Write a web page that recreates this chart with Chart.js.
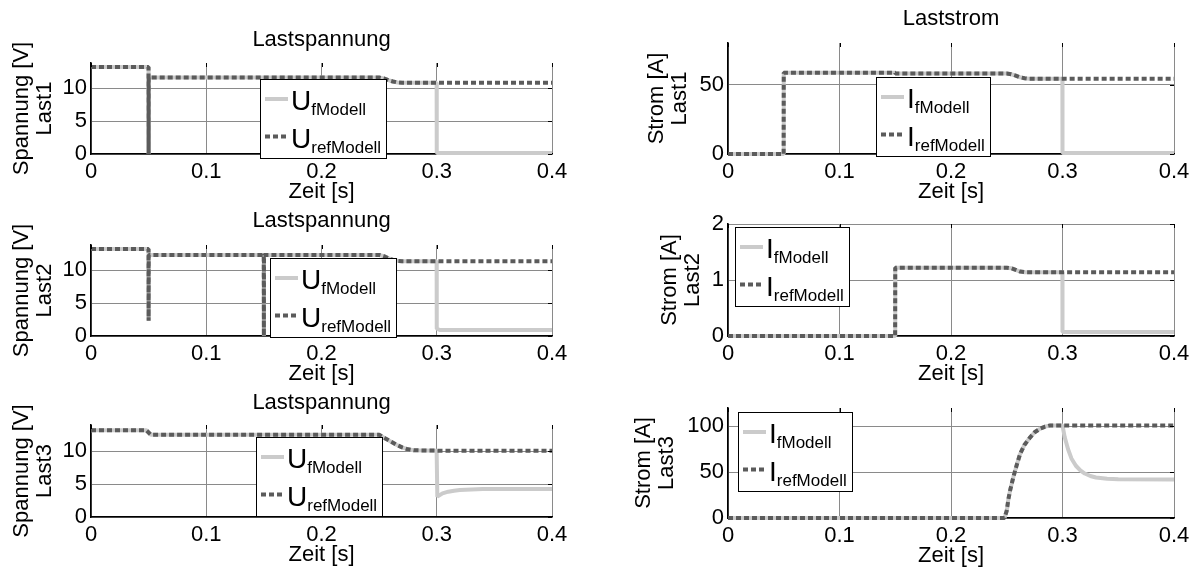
<!DOCTYPE html>
<html>
<head>
<meta charset="utf-8">
<script src="https://cdn.jsdelivr.net/npm/chart.js@4.4.1/dist/chart.umd.min.js"></script>
<style>
  html, body { margin: 0; padding: 0; background: #fff; }
  #wrap { position: relative; width: 1203px; height: 573px; overflow: hidden; }
  #wrap canvas { position: absolute; }
</style>
</head>
<body>
<div id="wrap"></div>
<script>

// Last1 - Spannung
const tL1    = [0, 0.0499, 0.05, 0.0501, 0.25, 0.254, 0.258, 0.262, 0.266, 0.27, 0.2999, 0.3, 0.4];
const uRefL1 = [13.2, 13.2, 0, 11.6, 11.6, 11.45, 11.2, 11.0, 10.85, 10.8, 10.8, 10.8, 10.8];
const uFL1   = [13.2, 13.2, 0, 11.6, 11.6, 11.45, 11.2, 11.0, 10.85, 10.8, 10.8, 0.15, 0.15];

// Last2 - Spannung
const tL2    = [0, 0.0499, 0.05, 0.0501, 0.1499, 0.15, 0.1501, 0.25, 0.254, 0.258, 0.262, 0.266, 0.27, 0.2999, 0.3, 0.303, 0.4];
const uRefL2 = [13.2, 13.2, 2.3, 12.3, 12.3, 0, 12.3, 12.3, 12.1, 11.8, 11.55, 11.4, 11.35, 11.35, 11.35, 11.35, 11.35];
const uFL2   = [13.2, 13.2, 2.3, 12.3, 12.3, 0, 12.3, 12.3, 12.1, 11.8, 11.55, 11.4, 11.35, 11.35, 1.1, 0.9, 0.9];

// Last3 - Spannung
const tL3    = [0, 0.048, 0.052, 0.25, 0.255, 0.26, 0.265, 0.27, 0.275, 0.28, 0.2999, 0.3, 0.3005, 0.305, 0.31, 0.315, 0.32, 0.33, 0.34, 0.4];
const uRefL3 = [13.2, 13.2, 12.5, 12.5, 12.0, 11.5, 11.0, 10.6, 10.3, 10.15, 10.1, 10.1, 10.1, 10.1, 10.1, 10.1, 10.1, 10.1, 10.1, 10.1];
const uFL3   = [13.2, 13.2, 12.5, 12.5, 12.0, 11.5, 11.0, 10.6, 10.3, 10.15, 10.1, 10.1, 3.1, 3.6, 3.85, 4.0, 4.1, 4.2, 4.25, 4.25];

// Last1 - Strom
const tR1    = [0, 0.0499, 0.05, 0.15, 0.1501, 0.25, 0.254, 0.258, 0.262, 0.266, 0.27, 0.2999, 0.3, 0.4];
const iRefR1 = [0, 0, 58.5, 58.5, 58, 58, 57.5, 56.5, 55.3, 54.6, 54.2, 54.2, 54.2, 54.2];
const iFR1   = [0, 0, 58.5, 58.5, 58, 58, 57.5, 56.5, 55.3, 54.6, 54.2, 54.2, 0.8, 0.8];

// Last2 - Strom
const tR2    = [0, 0.1499, 0.15, 0.25, 0.254, 0.258, 0.262, 0.266, 0.2999, 0.3, 0.4];
const iRefR2 = [0, 0, 1.22, 1.22, 1.21, 1.18, 1.15, 1.14, 1.14, 1.14, 1.14];
const iFR2   = [0, 0, 1.22, 1.22, 1.21, 1.18, 1.15, 1.14, 1.14, 0.07, 0.07];

// Last3 - Strom
const tR3    = [0, 0.248, 0.25, 0.2514, 0.253, 0.256, 0.259, 0.262, 0.266, 0.271, 0.275, 0.28, 0.284, 0.289, 0.3,
                0.302, 0.305, 0.308, 0.312, 0.316, 0.32, 0.325, 0.33, 0.34, 0.35, 0.4];
const iRefR3 = [0, 0, 8, 20, 30, 45, 58, 70, 80, 88, 93.5, 97.5, 99.5, 101, 101,
                101, 101, 101, 101, 101, 101, 101, 101, 101, 101, 101];
const iFR3   = [0, 0, 8, 20, 30, 45, 58, 70, 80, 88, 93.5, 97.5, 99.5, 101, 101,
                88, 75, 65, 57, 52, 48.5, 45.8, 44.2, 42.8, 42.2, 42];

// Achsenbeschriftung
const xTickVals = [0, 0.1, 0.2, 0.3, 0.4];
const yTicksU  = [0, 5, 10];
const yTicksI1 = [0, 50];
const yTicksI2 = [0, 1, 2];
const yTicksI3 = [0, 50, 100];

Chart.defaults.font.family = '"Liberation Sans", Arial, sans-serif';
Chart.defaults.font.size = 22;
Chart.defaults.color = '#000';

const FONT = '"Liberation Sans", Arial, sans-serif';

// small box ticks on top / right edge, like matlab
const boxTicks = {
  id: 'boxTicks',
  afterDatasetsDraw(chart) {
    const ctx = chart.ctx, a = chart.chartArea;
    const xs = chart.scales.x, ys = chart.scales.y;
    ctx.save();
    ctx.strokeStyle = '#000';
    ctx.lineWidth = 1;
    ctx.beginPath();
    xs.ticks.forEach(t => {
      const px = Math.round(xs.getPixelForValue(t.value)) + 0.5;
      ctx.moveTo(px, a.top);
      ctx.lineTo(px, a.top + 4);
    });
    ys.ticks.forEach(t => {
      const py = Math.round(ys.getPixelForValue(t.value)) + 0.5;
      ctx.moveTo(a.right, py);
      ctx.lineTo(a.right - 4, py);
    });
    ctx.stroke();
    ctx.restore();
  }
};

// legend with subscripts, MATLAB style
const subLegend = {
  id: 'subLegend',
  afterDraw(chart, args, opts) {
    if (!opts || !opts.main) return;
    const ctx = chart.ctx, a = chart.chartArea;
    const bx = Math.round(a.left + opts.dx), by = Math.round(a.top + opts.dy);
    ctx.save();
    ctx.font = '28px ' + FONT;
    const mw = ctx.measureText(opts.main).width;
    ctx.font = '17px ' + FONT;
    const sw = Math.max(...opts.subs.map(s => ctx.measureText(s).width));
    const w = Math.round(31 + mw + sw + 5), h = 79;
    ctx.fillStyle = '#fff';
    ctx.fillRect(bx, by, w, h);
    ctx.strokeStyle = '#000';
    ctx.lineWidth = 1;
    ctx.strokeRect(bx + 0.5, by + 0.5, w, h);
    chart.data.datasets.forEach((ds, i) => {
      const y = by + 20 + i * 37.5;
      ctx.strokeStyle = ds.borderColor;
      ctx.lineWidth = ds.borderWidth;
      ctx.setLineDash(ds.borderDash || []);
      ctx.beginPath();
      ctx.moveTo(bx + 5, y);
      ctx.lineTo(bx + 28, y);
      ctx.stroke();
      ctx.setLineDash([]);
      ctx.fillStyle = '#000';
      ctx.textAlign = 'left';
      ctx.textBaseline = 'alphabetic';
      ctx.font = '28px ' + FONT;
      ctx.fillText(opts.main, bx + 31, y + 11);
      ctx.font = '17px ' + FONT;
      ctx.fillText(opts.subs[i], bx + 31 + mw, y + 16);
    });
    ctx.restore();
  }
};

const wrap = document.getElementById('wrap');
const zip = (t, v) => t.map((x, i) => ({ x: x, y: v[i] }));
const X_AXIS_H = 51;

function makePanel(p) {
  const cv = document.createElement('canvas');
  cv.width = p.canvas.w;
  cv.height = p.canvas.h;
  cv.style.left = p.canvas.x + 'px';
  cv.style.top = p.canvas.y + 'px';
  wrap.appendChild(cv);

  const lh = 22 * 1.2;
  const lhY = 22 * 1.05;
  const title = p.title ? {
    display: true, text: p.title, color: '#000', fullSize: false,
    font: { size: 22, weight: 'normal' },
    padding: { top: p.titleY - lh / 2 - p.canvas.y, bottom: p.area.t - p.titleY - lh / 2 }
  } : { display: false };

  new Chart(cv, {
    type: 'line',
    data: {
      datasets: [
        { data: zip(p.t, p.f), borderColor: '#cbcbcb', borderWidth: 4, pointRadius: 0,
          tension: 0, order: 2, clip: false, borderJoinStyle: 'bevel' },
        { data: zip(p.t, p.ref), borderColor: '#5b5b5b', borderWidth: 4, borderDash: [5, 3],
          pointRadius: 0, tension: 0, order: 1, clip: false, borderJoinStyle: 'bevel' }
      ]
    },
    options: {
      responsive: false,
      animation: false,
      events: [],
      layout: {
        padding: {
          top: p.title ? 0 : p.area.t - p.canvas.y,
          left: 0,
          right: p.canvas.x + p.canvas.w - p.area.r,
          bottom: p.canvas.y + p.canvas.h - p.area.b - X_AXIS_H
        }
      },
      plugins: {
        legend: { display: false },
        tooltip: { enabled: false },
        title: title,
        subLegend: p.legend
      },
      scales: {
        x: {
          type: 'linear', min: 0, max: 0.4,
          afterBuildTicks: s => { s.ticks = xTickVals.map(v => ({ value: v })); },
          afterFit: s => { s.height = X_AXIS_H; },
          ticks: { padding: 5, maxRotation: 0, autoSkip: false,
                   callback: v => String(Math.round(v * 10) / 10) },
          grid: { color: '#8a8a8a', lineWidth: 1, drawTicks: false },
          border: { display: true, color: '#000', width: 1.6 },
          title: { display: true, text: 'Zeit [s]', font: { size: 22 }, padding: { top: 0, bottom: 0 } }
        },
        y: {
          type: 'linear', min: 0, max: p.ymax,
          afterBuildTicks: s => { s.ticks = p.yTicks.map(v => ({ value: v })); },
          afterFit: s => { s.width = p.area.l - p.canvas.x; },
          ticks: { padding: 4, autoSkip: false },
          grid: { color: '#8a8a8a', lineWidth: 1, drawTicks: false },
          border: { display: true, color: '#000', width: 1.6 },
          title: {
            display: true, text: p.yTitle, font: { size: 22, lineHeight: 1.05 },
            padding: { top: p.yTitleX - p.canvas.x - lhY / 2, bottom: 0 }
          }
        }
      }
    },
    plugins: [boxTicks, subLegend]
  });
}

const legU = { main: 'U', subs: ['fModell', 'refModell'] };
const legI = { main: 'I', subs: ['fModell', 'refModell'] };

makePanel({
  canvas: { x: 0, y: 0, w: 600, h: 205 }, area: { l: 91, t: 63, r: 552, b: 154 },
  title: 'Lastspannung', titleY: 40, yTitle: ['Spannung [V]', 'Last1'], yTitleX: 22,
  ymax: 13.8, yTicks: yTicksU, t: tL1, ref: uRefL1, f: uFL1,
  legend: Object.assign({ dx: 169, dy: 16 }, legU)
});
makePanel({
  canvas: { x: 600, y: 0, w: 603, h: 205 }, area: { l: 728, t: 43, r: 1174, b: 154 },
  title: 'Laststrom', titleY: 18.5, yTitle: ['Strom [A]', 'Last1'], yTitleX: 657,
  ymax: 80, yTicks: yTicksI1, t: tR1, ref: iRefR1, f: iFR1,
  legend: Object.assign({ dx: 148, dy: 34 }, legI)
});
makePanel({
  canvas: { x: 0, y: 190, w: 600, h: 200 }, area: { l: 91, t: 245, r: 552, b: 336 },
  title: 'Lastspannung', titleY: 221, yTitle: ['Spannung [V]', 'Last2'], yTitleX: 22,
  ymax: 13.8, yTicks: yTicksU, t: tL2, ref: uRefL2, f: uFL2,
  legend: Object.assign({ dx: 179, dy: 13 }, legU)
});
makePanel({
  canvas: { x: 600, y: 190, w: 603, h: 200 }, area: { l: 728, t: 224, r: 1174, b: 336 },
  title: null, yTitle: ['Strom [A]', 'Last2'], yTitleX: 670,
  ymax: 2, yTicks: yTicksI2, t: tR2, ref: iRefR2, f: iFR2,
  legend: Object.assign({ dx: 7, dy: 3 }, legI)
});
makePanel({
  canvas: { x: 0, y: 375, w: 600, h: 198 }, area: { l: 91, t: 425, r: 552, b: 517 },
  title: 'Lastspannung', titleY: 403, yTitle: ['Spannung [V]', 'Last3'], yTitleX: 22,
  ymax: 14, yTicks: yTicksU, t: tL3, ref: uRefL3, f: uFL3,
  legend: Object.assign({ dx: 165, dy: 12 }, legU)
});
makePanel({
  canvas: { x: 600, y: 375, w: 603, h: 198 }, area: { l: 728, t: 408, r: 1174, b: 518 },
  title: null, yTitle: ['Strom [A]', 'Last3'], yTitleX: 644,
  ymax: 120, yTicks: yTicksI3, t: tR3, ref: iRefR3, f: iFR3,
  legend: Object.assign({ dx: 10, dy: 4 }, legI)
});
</script>
</body>
</html>
